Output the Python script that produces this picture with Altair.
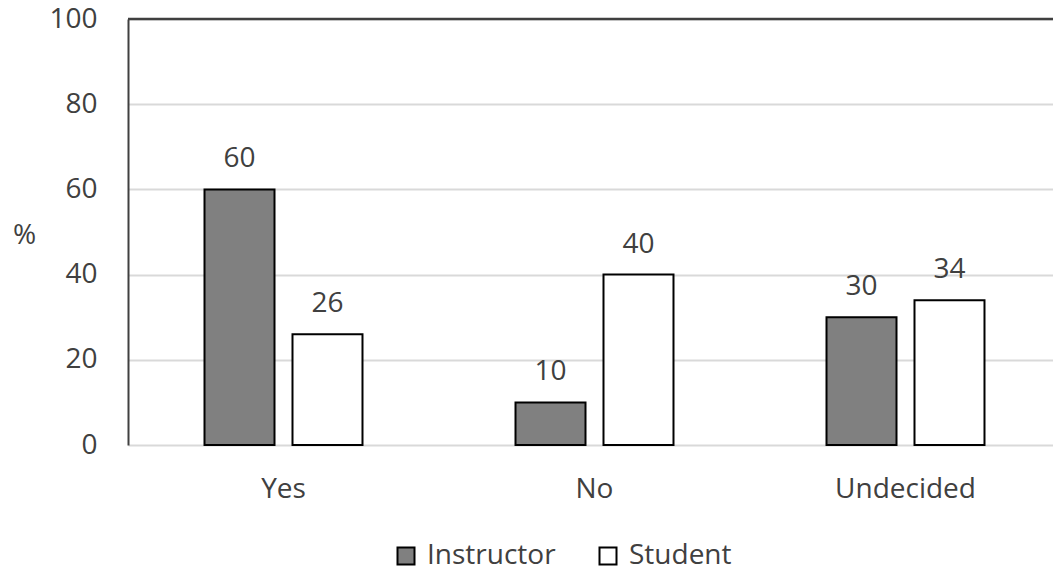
import altair as alt
import pandas as pd

categories = ["Yes", "No", "Undecided"]
groups = ["Instructor", "Student"]
instructor = [60, 10, 30]
student = [26, 40, 34]
y_ticks = [0, 20, 40, 60, 80, 100]

rows = []
for c, i, s in zip(categories, instructor, student):
    rows.append({"answer": c, "group": "Instructor", "pct": i})
    rows.append({"answer": c, "group": "Student", "pct": s})
df = pd.DataFrame(rows)

FONT = "Open Sans"
TXT = "#404040"
FS = 28

x_enc = alt.X(
    "answer:N",
    sort=categories,
    scale=alt.Scale(range=[0, 933], paddingInner=0.492, paddingOuter=0.246),
    axis=alt.Axis(
        title=None, labelAngle=0, labelFontSize=FS, labelColor=TXT, labelFont=FONT,
        ticks=False, domain=False, labelPadding=30, grid=False,
    ),
)
xoff = alt.XOffset("group:N", sort=groups, scale=alt.Scale(paddingInner=0.2045, paddingOuter=0))
y_enc = alt.Y(
    "pct:Q",
    scale=alt.Scale(domain=[0, 100], nice=False),
    axis=alt.Axis(
        values=y_ticks, title="%", titleAngle=0, titleAlign="center", titleBaseline="middle",
        titleX=-104, titleY=216, titleFont=FONT, titleFontSize=FS, titleFontWeight="normal",
        titleColor=TXT, labelFont=FONT, labelFontSize=FS, labelColor=TXT, labelPadding=31,
        ticks=False, domain=True, domainColor=TXT, domainWidth=2,
        grid=True, gridColor="#d9d9d9", gridWidth=2,
    ),
)

bars = alt.Chart(df).mark_bar(stroke="black", strokeWidth=2).encode(
    x=x_enc,
    xOffset=xoff,
    y=y_enc,
    color=alt.Color(
        "group:N",
        sort=groups,
        scale=alt.Scale(domain=groups, range=["#808080", "#ffffff"]),
        legend=alt.Legend(
            title=None, orient="none", legendX=264, legendY=523, direction="horizontal",
            symbolType="square", symbolSize=289, symbolStrokeColor="black", symbolStrokeWidth=2,
            labelFont=FONT, labelFontSize=FS, labelColor=TXT, labelOffset=7, columnPadding=38,
        ),
    ),
)

labels = alt.Chart(df).mark_text(
    font=FONT, fontSize=FS, color=TXT, baseline="alphabetic", dy=-22
).encode(
    x=alt.X("answer:N", sort=categories),
    xOffset=alt.XOffset("group:N", sort=groups),
    y="pct:Q",
    text="pct:Q",
)

top = alt.Chart(pd.DataFrame({"v": [100]})).mark_rule(color=TXT, strokeWidth=2.5).encode(
    y=alt.Y("v:Q"),
)

chart = alt.layer(bars, labels, top).properties(
    width=925, height=426,
    autosize=alt.AutoSizeParams(type="none"),
    padding={"left": 128, "top": 19, "right": 0, "bottom": 126},
    background="white",
).configure_view(stroke=None)

chart.save("out.html", embed_options={"renderer": "svg", "actions": False})
